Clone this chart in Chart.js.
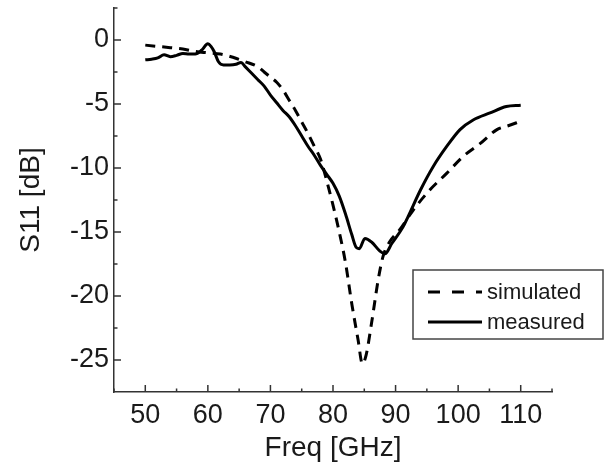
<!DOCTYPE html>
<html lang="en">
<head>
<meta charset="UTF-8">
<title>S11</title>
<script src="https://cdn.jsdelivr.net/npm/chart.js"></script>
<style>
  html, body { margin: 0; padding: 0; background: #fff; }
</style>
</head>
<body>
<canvas id="s11Chart" width="606" height="468"></canvas>
<script>
// frequency points (GHz) and S11 values (dB)
var simFreq = [50, 52, 54, 56, 58, 60, 62, 64, 66, 68, 69, 70, 71, 72, 73, 74, 75, 76, 77, 78, 79, 80, 81, 82, 83, 84, 84.7, 85.3, 86.2, 87.2, 88, 89, 90.7, 92.8, 95.5, 98.2, 100.8, 103.5, 106.2, 108, 110];
var simS11 = [-0.4, -0.5, -0.6, -0.7, -0.9, -1.0, -1.1, -1.35, -1.7, -2.1, -2.5, -2.9, -3.3, -3.9, -4.7, -5.5, -6.4, -7.3, -8.3, -9.3, -11.0, -12.9, -15.0, -17.4, -20.6, -23.4, -25.3, -24.6, -22.0, -18.8, -16.9, -15.8, -14.8, -13.3, -11.7, -10.4, -9.1, -8.1, -7.0, -6.7, -6.35];

var measFreq = [50, 51, 52, 53, 54, 55, 56, 57, 58, 59, 60, 60.5, 61, 61.7, 62.5, 63.5, 64.5, 65.3, 66, 67, 68, 69, 70, 71, 72, 73, 74, 75, 76, 77, 78, 79, 80, 81, 82, 83, 83.7, 84.2, 85.1, 86.2, 87.5, 88.3, 89.4, 91.2, 92, 94, 96, 98.2, 100.3, 102.4, 105.1, 107.7, 110];
var measS11 = [-1.55, -1.5, -1.4, -1.15, -1.3, -1.2, -1.05, -1.1, -1.1, -0.8, -0.3, -0.5, -0.9, -1.7, -1.95, -1.95, -1.9, -1.75, -2.1, -2.6, -3.1, -3.6, -4.3, -4.9, -5.5, -6.0, -6.7, -7.5, -8.3, -9.0, -9.8, -10.5, -11.2, -12.2, -13.6, -15.2, -16.2, -16.3, -15.5, -15.8, -16.5, -16.7, -15.9, -14.6, -13.8, -11.7, -9.9, -8.3, -7.0, -6.25, -5.7, -5.2, -5.1];

var xTicks = [50, 60, 70, 80, 90, 100, 110];
var xMinor = [45, 55, 65, 75, 85, 95, 105, 115];
var yTicks = [0, -5, -10, -15, -20, -25];
var yMinor = [2.5, -2.5, -7.5, -12.5, -17.5, -22.5];

var seriesNames = ['simulated', 'measured'];

var FONT = "'Liberation Sans', Arial, sans-serif";
var INK = '#1a1a1a';
var AXIS = '#333';

function toPoints(xs, ys) {
    return xs.map(function (v, i) { return { x: v, y: ys[i] }; });
}

// ticks pointing into the plot, like the original
var inwardTicks = {
    id: 'inwardTicks',
    afterDatasetsDraw: function (chart) {
        var ctx = chart.ctx, a = chart.chartArea;
        var x = chart.scales.x, y = chart.scales.y;
        ctx.save();
        ctx.strokeStyle = AXIS;
        ctx.lineWidth = 1.5;
        ctx.beginPath();
        xTicks.forEach(function (v) { var p = x.getPixelForValue(v); ctx.moveTo(p, a.bottom); ctx.lineTo(p, a.bottom - 7); });
        xMinor.forEach(function (v) { var p = x.getPixelForValue(v); ctx.moveTo(p, a.bottom); ctx.lineTo(p, a.bottom - 3.5); });
        yTicks.forEach(function (v) { var p = y.getPixelForValue(v); ctx.moveTo(a.left, p); ctx.lineTo(a.left + 7, p); });
        yMinor.forEach(function (v) { var p = y.getPixelForValue(v); ctx.moveTo(a.left, p); ctx.lineTo(a.left + 3.5, p); });
        ctx.stroke();
        ctx.restore();
    }
};

// boxed legend inside the plot
var boxLegend = {
    id: 'boxLegend',
    afterDraw: function (chart) {
        var ctx = chart.ctx;
        var left = 413, top = 270, w = 190, h = 69;
        ctx.save();
        ctx.fillStyle = '#fff';
        ctx.fillRect(left, top, w, h);
        ctx.strokeStyle = '#444';
        ctx.lineWidth = 1.5;
        ctx.strokeRect(left, top, w, h);
        chart.data.datasets.forEach(function (ds, i) {
            var cy = top + 22 + i * 30;
            ctx.strokeStyle = ds.borderColor;
            ctx.lineWidth = ds.borderWidth;
            ctx.setLineDash(ds.borderDash.length ? [12, 12] : []);
            ctx.beginPath();
            ctx.moveTo(left + 15, cy);
            ctx.lineTo(left + 69, cy);
            ctx.stroke();
            ctx.setLineDash([]);
            ctx.fillStyle = INK;
            ctx.font = '22px ' + FONT;
            ctx.textBaseline = 'middle';
            ctx.fillText(ds.label, left + 74, cy + 1);
        });
        ctx.restore();
    }
};

function noPad(s) {
    s.paddingTop = 0;
    s.paddingBottom = 0;
    s.paddingLeft = 0;
    s.paddingRight = 0;
}

var ctx = document.getElementById('s11Chart').getContext('2d');
var chart = new Chart(ctx, {
    type: 'line',
    data: {
        datasets: [{
            label: seriesNames[0],
            data: toPoints(simFreq, simS11),
            borderColor: '#000',
            borderWidth: 3,
            borderDash: [10, 7],
            pointRadius: 0,
            cubicInterpolationMode: 'monotone',
            fill: false
        }, {
            label: seriesNames[1],
            data: toPoints(measFreq, measS11),
            borderColor: '#000',
            borderWidth: 3,
            borderDash: [],
            pointRadius: 0,
            cubicInterpolationMode: 'monotone',
            fill: false
        }]
    },
    options: {
        responsive: false,
        animation: false,
        layout: { padding: { top: 8, right: 54, left: 0, bottom: 0 } },
        plugins: {
            legend: { display: false },
            tooltip: { enabled: false }
        },
        scales: {
            x: {
                type: 'linear',
                min: 45,
                max: 115,
                afterBuildTicks: function (s) { s.ticks = xTicks.map(function (v) { return { value: v }; }); },
                afterFit: function (s) { s.height = 76; noPad(s); },
                grid: { display: false, drawTicks: false },
                border: { display: true, color: AXIS, width: 1.5 },
                ticks: { color: INK, padding: 7, maxRotation: 0, autoSkip: false, font: { family: FONT, size: 27 } },
                title: { display: true, text: 'Freq [GHz]', color: INK, padding: { top: 0, bottom: 3 }, font: { family: FONT, size: 28 } }
            },
            y: {
                type: 'linear',
                min: -27.5,
                max: 2.5,
                afterBuildTicks: function (s) { s.ticks = yTicks.map(function (v) { return { value: v }; }); },
                afterFit: function (s) { s.width = 114; noPad(s); },
                grid: { display: false, drawTicks: false },
                border: { display: true, color: AXIS, width: 1.5 },
                ticks: { color: INK, padding: 5, autoSkip: false, font: { family: FONT, size: 27 } },
                title: { display: true, text: 'S11 [dB]', color: INK, padding: { top: 14, bottom: 0 }, font: { family: FONT, size: 28 } }
            }
        }
    },
    plugins: [inwardTicks, boxLegend]
});
</script>
</body>
</html>
